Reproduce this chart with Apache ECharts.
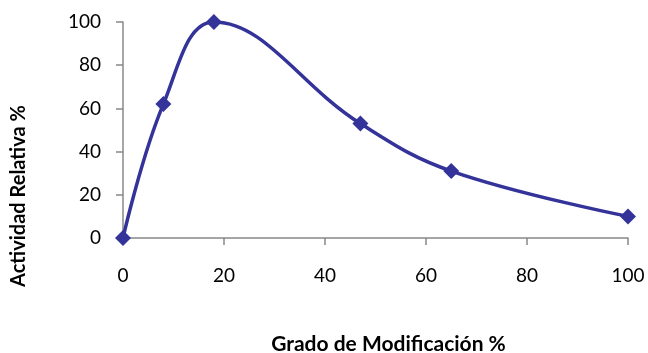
<!DOCTYPE html>
<html><head><meta charset="utf-8">
<script src="https://cdn.jsdelivr.net/npm/echarts@6/dist/echarts.min.js"></script>
<style>html,body{margin:0;padding:0;background:#fff}#c{width:648px;height:353px}</style>
</head><body><div id="c"></div>
<script>
const gradoModificacion = [0, 8, 18, 47, 65, 100];
const actividadRelativa = [0, 62, 100, 53, 31, 10];
const xTicks = [0, 20, 40, 60, 80, 100];
const yTicks = [0, 20, 40, 60, 80, 100];

const data = gradoModificacion.map((x, i) => [x, actividadRelativa[i]]);
const chart = echarts.init(document.getElementById('c'));
const labelFont = { fontFamily: 'Lato', fontSize: 19, color: '#000' };
chart.setOption({
  animation: false,
  grid: { left: 123, right: 20, top: 22, bottom: 115, outerBoundsMode: 'none', containLabel: false },
  xAxis: {
    type: 'value', min: xTicks[0], max: xTicks[xTicks.length - 1], interval: 20,
    name: 'Grado de Modificación %', nameLocation: 'middle', nameGap: 96,
    nameTextStyle: { fontFamily: 'Lato', fontSize: 21, fontWeight: 'bold', color: '#000', padding: [0, 0, 0, 26] },
    axisLine: { lineStyle: { color: '#888', width: 1.5 } },
    axisTick: { show: true, length: 7, lineStyle: { color: '#888', width: 1.5 } },
    axisLabel: Object.assign({ margin: 28 }, labelFont),
    splitLine: { show: false }
  },
  yAxis: {
    type: 'value', min: yTicks[0], max: yTicks[yTicks.length - 1], interval: 20,
    name: 'Actividad Relativa %', nameLocation: 'middle', nameGap: 94, nameRotate: 90,
    nameTextStyle: { fontFamily: 'Lato', fontSize: 20, fontWeight: 'bold', color: '#000', padding: [0, 132, 0, 0] },
    axisLine: { show: true, lineStyle: { color: '#888', width: 1.5 } },
    axisTick: { show: true, length: 7, lineStyle: { color: '#888', width: 1.5 } },
    axisLabel: Object.assign({ margin: 22 }, labelFont),
    splitLine: { show: false }
  },
  series: [{
    type: 'line', data: data, smooth: 0.4,
    symbol: 'diamond', symbolSize: 16,
    lineStyle: { color: '#333399', width: 3.5 },
    itemStyle: { color: '#333399' }
  }]
});
</script></body></html>
